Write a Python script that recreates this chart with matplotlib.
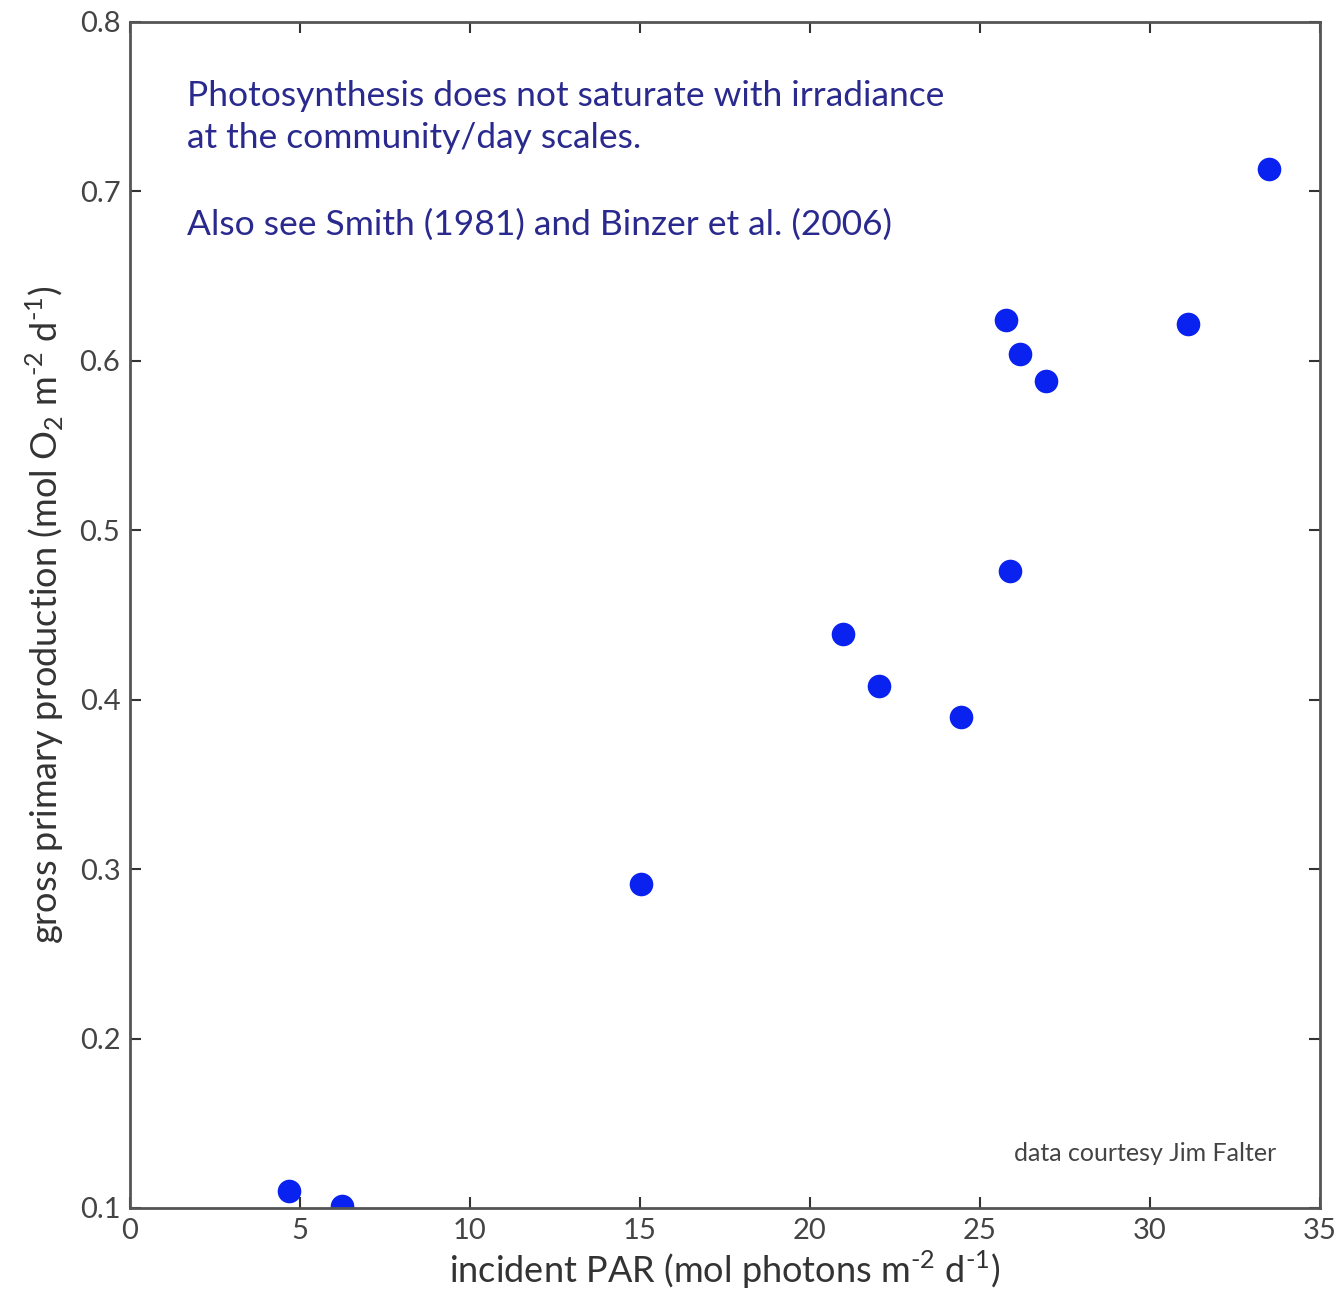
import matplotlib
matplotlib.use("Agg")
import matplotlib.pyplot as plt

# daily incident PAR vs gross primary production
par = [4.68, 6.24, 15.03, 20.97, 22.03, 24.44, 25.76, 26.18, 26.94, 25.88, 31.12, 33.5]
gpp = [0.110, 0.101, 0.291, 0.439, 0.408, 0.390, 0.624, 0.604, 0.588, 0.476, 0.622, 0.713]

xticks = [0, 5, 10, 15, 20, 25, 30, 35]
yticks = [0.1, 0.2, 0.3, 0.4, 0.5, 0.6, 0.7, 0.8]

plt.rcParams["font.family"] = ["Lato", "DejaVu Sans"]
plt.rcParams["mathtext.fontset"] = "custom"
plt.rcParams["mathtext.rm"] = "Lato"

fig = plt.figure(figsize=(13.43, 13.09), dpi=100)
ax = fig.add_axes([0.0968, 0.0772, 0.886, 0.906])

ax.plot(par, gpp, "o", color="#0a22f0", markersize=17, markeredgewidth=0)

ax.set_xlim(0, 35)
ax.set_ylim(0.1, 0.8)
ax.set_xticks(xticks)
ax.set_yticks(yticks)
ax.set_xticklabels([str(t) for t in xticks])
ax.set_yticklabels(["%.1f" % t for t in yticks])
ax.tick_params(direction="in", top=True, right=True, length=8, width=1.5,
               labelsize=21, labelcolor="#444444", color="#333333", pad=7)
for s in ax.spines.values():
    s.set_color("#555555")
    s.set_linewidth(2)

ax.set_xlabel(r"incident PAR (mol photons m$^{\text{-2}}$ d$^{\text{-1}}$)", fontsize=26, color="#333333", labelpad=4)
ax.set_ylabel(r"gross primary production (mol O$_2$ m$^{\text{-2}}$ d$^{\text{-1}}$)", fontsize=26, color="#333333", labelpad=10)

ax.text(0.048, 0.951, "Photosynthesis does not saturate with irradiance\nat the community/day scales.",
        transform=ax.transAxes, fontsize=25.5, color="#2a2a8e", va="top", linespacing=1.38)
ax.text(0.048, 0.843, "Also see Smith (1981) and Binzer et al. (2006)",
        transform=ax.transAxes, fontsize=25.5, color="#2a2a8e", va="top")
ax.text(0.963, 0.036, "data courtesy Jim Falter", transform=ax.transAxes,
        fontsize=18, color="#444444", ha="right", va="bottom")

fig.savefig("out.png", dpi=100)
